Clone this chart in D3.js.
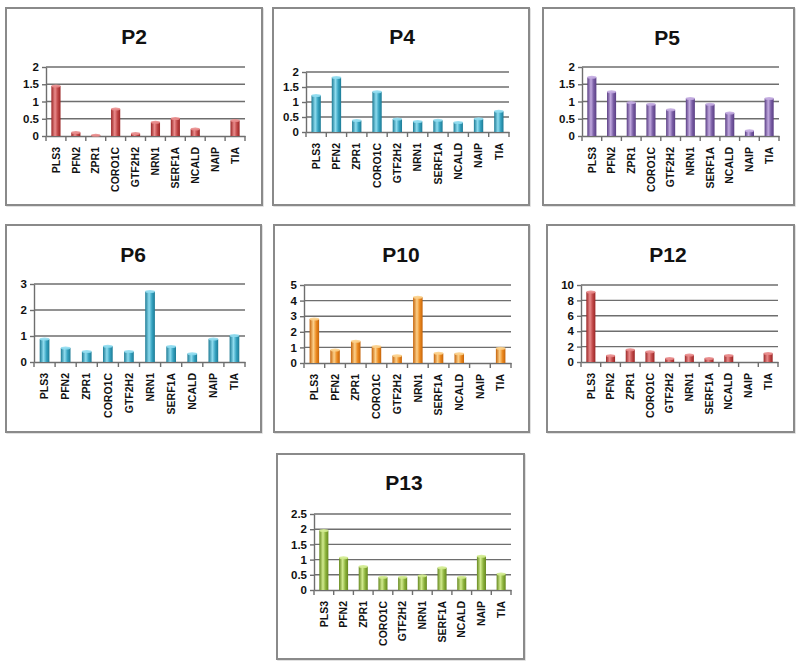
<!DOCTYPE html>
<html><head><meta charset="utf-8">
<script src="https://cdn.jsdelivr.net/npm/d3@7"></script>
<style>body{margin:0;background:#fff}svg{display:block}</style>
</head><body>
<script>
const categories = ["PLS3","PFN2","ZPR1","CORO1C","GTF2H2","NRN1","SERF1A","NCALD","NAIP","TIA"];
const titles = ["P2","P4","P5","P6","P10","P12","P13"];
const p2Values  = [1.45,0.1,0.02,0.78,0.07,0.4,0.51,0.2,0,0.45];
const p4Values  = [1.22,1.82,0.38,1.34,0.43,0.35,0.39,0.32,0.44,0.69];
const p5Values  = [1.7,1.28,0.97,0.92,0.76,1.09,0.92,0.67,0.15,1.09];
const p6Values  = [0.88,0.54,0.4,0.61,0.4,2.71,0.6,0.32,0.88,1.02];
const p10Values = [2.82,0.83,1.39,1.05,0.47,4.22,0.62,0.6,0,0.94];
const p12Values = [9.1,0.82,1.59,1.33,0.47,0.9,0.47,0.86,0,1.12];
const p13Values = [1.96,1.06,0.77,0.42,0.42,0.47,0.73,0.42,1.11,0.53];
const yTicks = [[0,0.5,1,1.5,2],[0,0.5,1,1.5,2],[0,0.5,1,1.5,2],[0,1,2,3],[0,1,2,3,4,5],[0,2,4,6,8,10],[0,0.5,1,1.5,2,2.5]];
const seriesValues = [p2Values,p4Values,p5Values,p6Values,p10Values,p12Values,p13Values];

// layout (positions/styles)
const layout = [
  {box:[6,8,262,205],   plot:[46,67,245,136],  title:[134,36], col:["#9a2525","#e98b8b","#c04848"]},
  {box:[273,8,529,205], plot:[306,72,509,132], title:[402,36], col:["#1d7b95","#8fdcef","#35a2c0"]},
  {box:[543,8,794,205], plot:[582,67,779,136], title:[667,37], col:["#5a3e84","#c2aae0","#7a5ea5"]},
  {box:[6,225,261,432], plot:[34,284,245,362], title:[133,254], col:["#1d7b95","#8fdcef","#35a2c0"]},
  {box:[274,225,529,432],plot:[304,285,511,363],title:[401,254], col:["#c5640a","#fcd08a","#ec8a20"]},
  {box:[547,225,794,432],plot:[581,285,778,362],title:[668,254], col:["#9a2525","#e98b8b","#c04848"]},
  {box:[277,454,524,659],plot:[314,514,511,590],title:[404,482], col:["#66891f","#d2eb8f","#8cb23c"]}
];

const svg = d3.select("body").append("svg").attr("width",800).attr("height",668);
const defs = svg.append("defs");
const font = "Liberation Sans, Arial, sans-serif";

titles.forEach((t,i)=>{
  const L = layout[i];
  const vals = seriesValues[i];
  const ticks = yTicks[i];
  const g = svg.append("g");
  const [bx0,by0,bx1,by1] = L.box;
  g.append("rect").attr("x",bx0+1).attr("y",by0+1).attr("width",bx1-bx0).attr("height",by1-by0)
    .attr("fill","none").attr("stroke","#d8d8d8").attr("stroke-width",1.5);
  g.append("rect").attr("x",bx0).attr("y",by0).attr("width",bx1-bx0).attr("height",by1-by0)
    .attr("fill","#fff").attr("stroke","#8a8a8a").attr("stroke-width",2);

  g.append("text").attr("x",L.title[0]).attr("y",L.title[1]).attr("text-anchor","middle")
    .attr("dominant-baseline","central").attr("font-family",font)
    .attr("font-weight","bold").attr("font-size",21).attr("fill","#111").text(t);

  const [px0,py0,px1,py1] = L.plot;
  const x = d3.scaleBand().domain(categories).range([px0,px1]).paddingInner(0).paddingOuter(0);
  const y = d3.scaleLinear().domain([0,d3.max(ticks)]).range([py1,py0]);

  // gridlines
  g.append("g").selectAll("line").data(ticks.filter(d=>d>0)).join("line")
    .attr("x1",px0).attr("x2",px1).attr("y1",d=>y(d)).attr("y2",d=>y(d))
    .attr("stroke","#6e6e6e").attr("stroke-width",1.4);

  // y axis
  const yAxis = d3.axisLeft(y).tickValues(ticks).tickSize(4).tickSizeOuter(0).tickFormat(d3.format("~g"));
  const ya = g.append("g").attr("transform",`translate(${px0},0)`).call(yAxis);
  ya.select(".domain").attr("stroke","#6e6e6e").attr("stroke-width",1.4);
  ya.selectAll(".tick line").attr("stroke","#6e6e6e").attr("stroke-width",1.4);
  ya.selectAll(".tick text").attr("font-family",font)
    .attr("font-size",11.5).attr("font-weight","bold").attr("fill","#111").attr("x",-7);

  // x axis
  const xAxis = d3.axisBottom(x).tickSize(0).tickSizeOuter(0);
  const xa = g.append("g").attr("transform",`translate(0,${py1})`).call(xAxis);
  xa.select(".domain").attr("stroke","#6e6e6e").attr("stroke-width",1.4);
  xa.selectAll(".tick text").attr("font-family",font)
    .attr("font-size",10.5).attr("font-weight","bold").attr("fill","#111")
    .attr("transform","rotate(-90)").attr("text-anchor","end")
    .attr("x",-11).attr("y",0).attr("dy","0.35em");
  // category separator ticks
  g.append("g").selectAll("line").data(d3.range(categories.length+1)).join("line")
    .attr("x1",k=>px0+k*x.bandwidth()).attr("x2",k=>px0+k*x.bandwidth())
    .attr("y1",py1).attr("y2",py1+5).attr("stroke","#6e6e6e").attr("stroke-width",1.4);

  // gradient
  const gid = "grad"+i;
  const grad = defs.append("linearGradient").attr("id",gid).attr("x1","0%").attr("x2","100%");
  grad.append("stop").attr("offset","0%").attr("stop-color",L.col[0]);
  grad.append("stop").attr("offset","40%").attr("stop-color",L.col[1]);
  grad.append("stop").attr("offset","70%").attr("stop-color",L.col[2]);
  grad.append("stop").attr("offset","100%").attr("stop-color",L.col[0]);

  const bw = x.bandwidth()*0.46;
  const data = categories.map((c,k)=>({c,v:vals[k]})).filter(d=>d.v>0);
  const bars = g.append("g");
  bars.selectAll("rect").data(data).join("rect")
    .attr("x",d=>x(d.c)+(x.bandwidth()-bw)/2).attr("width",bw)
    .attr("y",d=>y(d.v)).attr("height",d=>py1-y(d.v))
    .attr("fill",`url(#${gid})`);
  bars.selectAll("ellipse").data(data).join("ellipse")
    .attr("cx",d=>x(d.c)+x.bandwidth()/2).attr("cy",d=>y(d.v))
    .attr("rx",bw/2).attr("ry",1.5).attr("fill",L.col[1]).attr("opacity",0.9);
});
</script>
</body></html>
